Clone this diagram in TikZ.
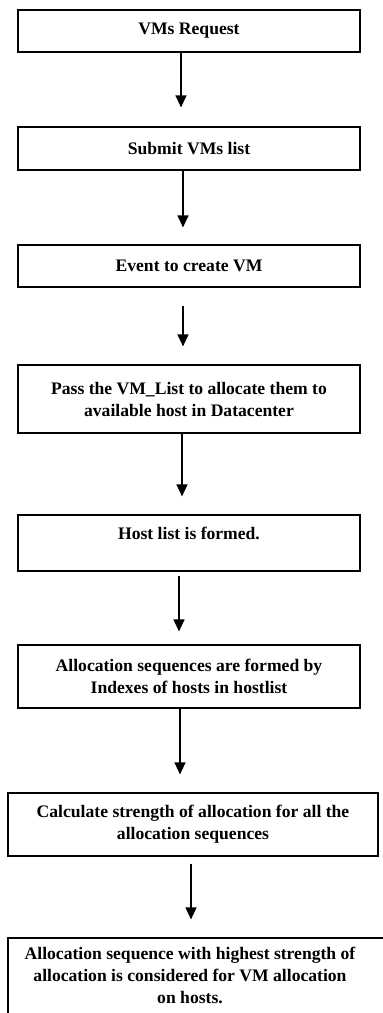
\documentclass[tikz,border=0pt]{standalone}
\usepackage{fontspec}
\setmainfont{Liberation Serif}
\usetikzlibrary{arrows.meta}
\begin{document}
\begin{tikzpicture}[x=1pt,y=-1pt,
  stepbox/.style={draw=black, line width=1.2pt, rectangle, inner sep=0pt,
    minimum width=342pt, align=center,
    font=\fontsize{17.6}{22}\selectfont\bfseries},
  arr/.style={draw=black, line width=1.3pt, -{Triangle[length=12pt,width=11pt]}}]
\useasboundingbox (0,0) rectangle (383,1013);
\fill[white] (0,0) rectangle (383,1013);
\clip (0,0) rectangle (383,1013);
\node[stepbox, minimum height=42pt] (b1) at (189,31) {VMs Request};
\node[stepbox, minimum height=43pt] (b2) at (189,148.5) {Submit VMs list};
\node[stepbox, minimum height=42pt] (b3) at (189,266) {Event to create VM};
\node[stepbox, minimum height=68pt] (b4) at (189,399) {Pass the VM\_List to allocate them to\\available host in Datacenter};
\node[stepbox, minimum height=56pt, text depth=20pt] (b5) at (189,543) {Host list is formed.};
\node[stepbox, minimum height=63pt] (b6) at (189,676.5) {Allocation sequences are formed by\\Indexes of hosts in hostlist};
\node[stepbox, minimum height=63pt, minimum width=370pt] (b7) at (193,824.5) {Calculate strength of allocation for all the\\allocation sequences};
\node[stepbox, minimum height=78pt, minimum width=384pt, align=none] (b8) at (200,977)
  {\begin{tabular}{@{}c@{}}Allocation sequence with highest strength of\\allocation is considered for VM allocation\\on hosts.\end{tabular}\hspace*{20pt}};
\draw[arr] ([xshift=-8pt]b1.south) -- ([xshift=-8pt,yshift=19pt]b2.north);
\draw[arr] ([xshift=-6pt]b2.south) -- ([xshift=-6pt,yshift=17pt]b3.north);
\draw[arr] ([xshift=-6pt,yshift=-18pt]b3.south) -- ([xshift=-6pt,yshift=18pt]b4.north);
\draw[arr] ([xshift=-7pt]b4.south) -- ([xshift=-7pt,yshift=18pt]b5.north);
\draw[arr] ([xshift=-10pt,yshift=-4pt]b5.south) -- ([xshift=-10pt,yshift=13pt]b6.north);
\draw[arr] ([xshift=-9pt]b6.south) -- ([xshift=-13pt,yshift=18pt]b7.north);
\draw[arr] ([xshift=-2pt,yshift=-7pt]b7.south) -- ([xshift=-9pt,yshift=18pt]b8.north);
\end{tikzpicture}
\end{document}
